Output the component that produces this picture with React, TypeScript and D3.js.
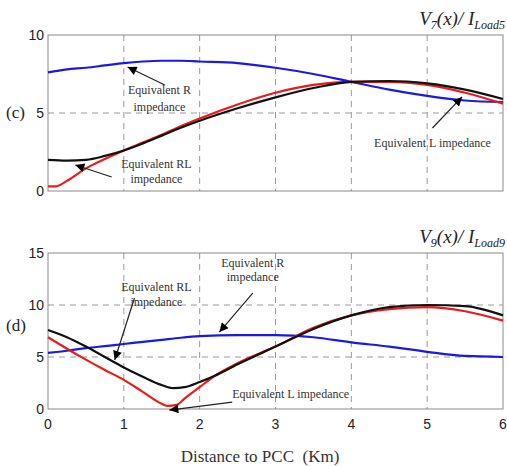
import React from 'react';
import * as d3 from 'd3';

// distance to PCC (km)
const xs = [0, 0.25, 0.5, 0.75, 1, 1.25, 1.5, 1.75, 2, 2.5, 3, 3.5, 4, 4.5, 5, 5.5, 6];

// panel (c): V7(x)/ILoad5
const cR = [7.6, 7.8, 7.9, 8.05, 8.2, 8.3, 8.35, 8.35, 8.3, 8.2, 7.9, 7.5, 7.0, 6.5, 6.1, 5.8, 5.7];
const cRL = [2.0, 1.95, 2.0, 2.25, 2.6, 3.05, 3.55, 4.05, 4.5, 5.3, 6.0, 6.6, 7.0, 7.05, 6.9, 6.5, 5.9];
const cLx = [0, 0.1, 0.25, 0.5, 0.75, 1, 1.25, 1.5, 1.75, 2, 2.5, 3, 3.5, 4, 4.5, 5, 5.5, 6];
const cL = [0.3, 0.3, 0.65, 1.45, 2.05, 2.6, 3.1, 3.6, 4.15, 4.65, 5.55, 6.3, 6.8, 7.0, 7.0, 6.8, 6.3, 5.6];

// panel (d): V9(x)/ILoad9
const dRx = xs;
const dR = [5.4, 5.6, 5.85, 6.05, 6.25, 6.45, 6.65, 6.85, 7.0, 7.1, 7.1, 6.9, 6.4, 6.0, 5.5, 5.1, 5.0];
const dRLx = [0, 0.25, 0.5, 0.75, 1, 1.25, 1.5, 1.65, 1.8, 2, 2.2, 2.5, 3, 3.5, 4, 4.5, 5, 5.5, 6];
const dRL = [7.6, 6.9, 6.0, 5.0, 4.0, 3.1, 2.3, 2.0, 2.1, 2.6, 3.2, 4.3, 6.0, 7.7, 9.0, 9.8, 10.0, 9.9, 9.0];
const dLx = [0, 0.25, 0.5, 0.75, 1, 1.25, 1.5, 1.57, 1.7, 1.8, 2, 2.2, 2.5, 3, 3.5, 4, 4.5, 5, 5.5, 6];
const dL = [6.9, 5.8, 4.75, 3.75, 2.8, 1.65, 0.5, 0.3, 0.4, 1.0, 2.1, 3.2, 4.4, 6.0, 7.8, 9.0, 9.6, 9.8, 9.4, 8.5];

const xTicks = [0, 1, 2, 3, 4, 5, 6];
const cTicks = [0, 5, 10];
const dTicks = [0, 5, 10, 15];

const BLUE = '#1a1ae6';
const RED = '#e81c1c';
const BLACK = '#111';

const SERIF = "'Liberation Serif', 'Times New Roman', serif";
const SANS = "'Liberation Sans', Arial, sans-serif";

type Note = { lines: string[]; tx: number; ty: number[]; anchor?: string; from: [number, number]; to: [number, number] };

const cNotes: Note[] = [
  { lines: ['Equivalent R', 'impedance'], tx: 1.47, ty: [6.2, 5.1], from: [1.54, 6.8], to: [1.05, 7.95] },
  { lines: ['Equivalent RL', 'impedance'], tx: 1.43, ty: [1.45, 0.5], from: [0.84, 0.9], to: [0.36, 1.67] },
  { lines: ['Equivalent L impedance'], tx: 5.07, ty: [2.8], from: [5.07, 4.04], to: [5.46, 6.03] },
];
const dNotes: Note[] = [
  { lines: ['Equivalent RL', 'impedance'], tx: 1.43, ty: [11.3, 9.9], from: [1.14, 10.67], to: [0.88, 4.71] },
  { lines: ['Equivalent R', 'impedance'], tx: 2.7, ty: [13.7, 12.3], from: [2.7, 11.15], to: [2.26, 7.4] },
  { lines: ['Equivalent L impedance'], tx: 2.43, ty: [1.1], anchor: 'start', from: [2.43, 0.67], to: [1.6, -0.1] },
];

const left = 48, right = 503;

function Panel({ top, bottom, ymax, yTicks, series, notes, label, sub, sub2, showX }: any) {
  const x = d3.scaleLinear().domain([0, 6]).range([left, right]);
  const y = d3.scaleLinear().domain([0, ymax]).range([bottom, top]);
  const line = d3.line<[number, number]>().x(d => x(d[0])).y(d => y(d[1])).curve(d3.curveMonotoneX);
  return (
    <g>
      {xTicks.slice(1, -1).map(t => (
        <line key={'gx' + t} x1={x(t)} x2={x(t)} y1={top} y2={bottom} stroke="#9a9a9a" strokeDasharray="6,5" strokeWidth={1} />
      ))}
      {yTicks.slice(1, -1).map((t: number) => (
        <line key={'gy' + t} x1={left} x2={right} y1={y(t)} y2={y(t)} stroke="#9a9a9a" strokeDasharray="6,5" strokeWidth={1} />
      ))}
      <rect x={left} y={top} width={right - left} height={bottom - top} fill="none" stroke="#8a8a8a" strokeWidth={1} />
      {yTicks.map((t: number) => (
        <text key={'ty' + t} x={left - 4} y={y(t)} dy="0.35em" textAnchor="end" style={{ fontFamily: SANS }} fontSize={14} fill="#222">{t}</text>
      ))}
      {showX && xTicks.map(t => (
        <text key={'tx' + t} x={x(t)} y={bottom + 20} textAnchor="middle" style={{ fontFamily: SANS }} fontSize={14} fill="#222">{t}</text>
      ))}
      {series.map((s: any, i: number) => (
        <path key={i} d={line(d3.zip(s.x, s.v) as any) || ''} fill="none" stroke={s.c} strokeWidth={2.2} />
      ))}
      {notes.map((n: Note, i: number) => (
        <g key={'n' + i}>
          <line x1={x(n.from[0])} y1={y(n.from[1])} x2={x(n.to[0])} y2={y(n.to[1])} stroke="#222" strokeWidth={1.2} markerEnd="url(#arr)" />
          {n.lines.map((l, j) => (
            <text key={j} x={x(n.tx)} y={y(n.ty[j])} textAnchor={n.anchor || 'middle'} style={{ fontFamily: SERIF }} fontSize={12} fill="#333">{l}</text>
          ))}
        </g>
      ))}
      <text x={6} y={y(ymax / 2) + (ymax === 10 ? 5 : 0)} style={{ fontFamily: SERIF }} fontSize={17} fill="#222">{label}</text>
      <text x={505} y={top - 10} textAnchor="end" style={{ fontFamily: SERIF }} fontStyle="italic" fontSize={19} fill="#222">
        V<tspan fontSize={12} dy={4}>{sub}</tspan><tspan dy={-4}>(x)/ I</tspan><tspan fontSize={12} dy={4}>{sub2}</tspan>
      </text>
    </g>
  );
}

export default function App() {
  return (
    <svg width={507} height={466} style={{ position: 'absolute', left: 0, top: 0, background: '#fff' }}>
      <defs>
        <marker id="arr" viewBox="0 0 10 10" refX={10} refY={5} markerWidth={11} markerHeight={9} markerUnits="userSpaceOnUse" orient="auto">
          <path d="M0,0 L10,5 L0,10 z" fill="#000" />
        </marker>
      </defs>
      <Panel top={35} bottom={191} ymax={10} yTicks={cTicks} label="(c)" sub="7" sub2="Load5" showX={false}
        notes={cNotes}
        series={[{ x: xs, v: cR, c: BLUE }, { x: cLx, v: cL, c: RED }, { x: xs, v: cRL, c: BLACK }]} />
      <Panel top={253} bottom={409} ymax={15} yTicks={dTicks} label="(d)" sub="9" sub2="Load9" showX={true}
        notes={dNotes}
        series={[{ x: dRx, v: dR, c: BLUE }, { x: dLx, v: dL, c: RED }, { x: dRLx, v: dRL, c: BLACK }]} />
      <text x={260} y={462} textAnchor="middle" style={{ fontFamily: SERIF, whiteSpace: 'pre' }} fontSize={17} fill="#333">Distance to PCC  (Km)</text>
    </svg>
  );
}
